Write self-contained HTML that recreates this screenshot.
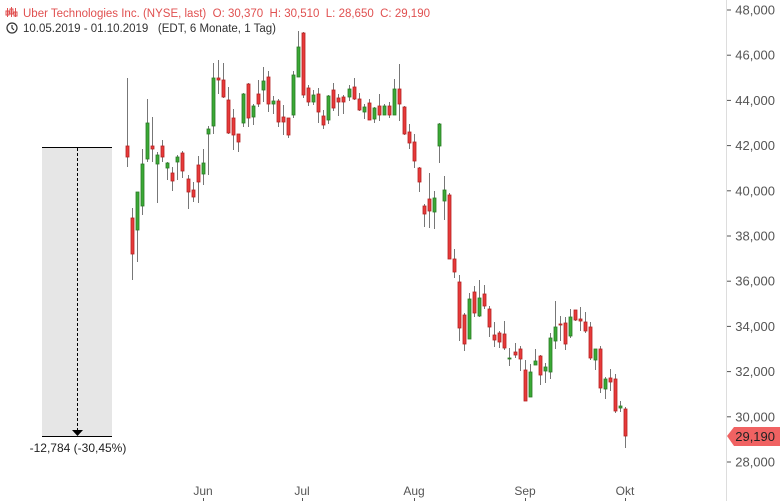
<!DOCTYPE html>
<html><head><meta charset="utf-8">
<style>
html,body{margin:0;padding:0;background:#fff;}
svg{display:block;font-family:"Liberation Sans",sans-serif;}
</style></head>
<body>
<svg id="c" width="780" height="501" viewBox="0 0 780 501" xmlns="http://www.w3.org/2000/svg">
<rect x="0" y="0" width="780" height="501" fill="#fff"/>
<rect x="42" y="147" width="70" height="289" fill="#e6e6e6"/>
<line x1="42" y1="147.5" x2="112" y2="147.5" stroke="#000" stroke-width="1"/>
<line x1="42" y1="436.5" x2="112" y2="436.5" stroke="#000" stroke-width="1"/>
<line x1="77.5" y1="148" x2="77.5" y2="430" stroke="#000" stroke-width="1" stroke-dasharray="3,2"/>
<polygon points="72,430 83,430 77.5,436" fill="#000"/>
<text x="78" y="452" font-size="12" fill="#222" text-anchor="middle">-12,784 (-30,45%)</text>
<line x1="726.5" y1="0" x2="726.5" y2="501" stroke="#ddd" stroke-width="1"/>
<g id="yax" font-size="13" fill="#555"></g>
<polygon points="727,436 734,427 780,427 780,446 734,446" fill="#f06262"/>
<text x="775" y="441" font-size="13" fill="#222" text-anchor="end">29,190</text>
<g font-size="12" fill="#555" text-anchor="middle">
<text x="203" y="495">Jun</text><text x="302" y="495">Jul</text><text x="414" y="495">Aug</text><text x="525" y="495">Sep</text><text x="625" y="495">Okt</text>
</g>
<g stroke="#555"><line x1="203.5" y1="498" x2="203.5" y2="501"/><line x1="302.5" y1="498" x2="302.5" y2="501"/><line x1="414.5" y1="498" x2="414.5" y2="501"/><line x1="525.5" y1="498" x2="525.5" y2="501"/><line x1="625.5" y1="498" x2="625.5" y2="501"/></g>
<g id="cs"></g>
<g stroke="#e05050" stroke-width="1" fill="none">
<line x1="7.5" y1="8" x2="7.5" y2="17"/><rect x="6" y="11" width="3" height="4"/>
<line x1="11.5" y1="7" x2="11.5" y2="17"/><rect x="10" y="9" width="3" height="5"/>
<line x1="15.5" y1="8" x2="15.5" y2="17"/><rect x="14" y="12" width="3" height="4"/>
</g>
<text x="23" y="17" font-size="11.5" fill="#e05050" xml:space="preserve" style="white-space:pre">Uber Technologies Inc. (NYSE, last)  O: 30,370  H: 30,510  L: 28,650  C: 29,190</text>
<circle cx="12" cy="28" r="5" stroke="#333" stroke-width="1.2" fill="none"/>
<polyline points="12,25 12,28 14,30" stroke="#333" stroke-width="1.2" fill="none"/>
<text x="23" y="32" font-size="11.5" fill="#333" xml:space="preserve" style="white-space:pre">10.05.2019 - 01.10.2019   (EDT, 6 Monate, 1 Tag)</text>
</svg>
<script>
var NS="http://www.w3.org/2000/svg";
var ya=document.getElementById("yax");
for(var v=48000;v>=28000;v-=2000){
 var y=10+(48000-v)/2000*45.2;
 var l=document.createElementNS(NS,"line");l.setAttribute("x1",727);l.setAttribute("x2",731);l.setAttribute("y1",y);l.setAttribute("y2",y);l.setAttribute("stroke","#555");ya.appendChild(l);
 var t=document.createElementNS(NS,"text");t.setAttribute("x",775);t.setAttribute("y",y+4.5);t.setAttribute("text-anchor","end");t.textContent=v.toLocaleString("en-US");ya.appendChild(t);
}
var d=[
[127,146,157,78,167,'r'],[132,218,254,208,280,'r'],[137,192,230,192,262,'g'],[142,164,206,149,215,'g'],[147,123,159,99,162,'g'],
[152,146,149,117,162,'r'],[157,155,164,152,203,'g'],[162,146,157,140,162,'r'],[167,163,168,162,180,'g'],[172,173,181,167,191,'r'],
[177,157,162,155,180,'g'],[182,153,171,151,178,'r'],[188,179,192,175,209,'r'],[193,190,197,182,202,'r'],[198,165,182,156,203,'r'],
[203,163,174,149,185,'g'],[208,129,134,126,175,'g'],[213,78,126,63,134,'g'],[218,78,80,60,94,'r'],[223,80,97,63,98,'r'],
[228,100,133,87,134,'r'],[233,118,135,109,150,'r'],[238,134,142,134,152,'r'],[243,94,123,93,127,'g'],[248,84,118,83,127,'r'],
[253,106,117,104,125,'g'],[258,94,104,80,107,'r'],[263,81,90,67,102,'g'],[268,77,104,71,112,'r'],[273,101,104,96,114,'g'],
[278,101,122,99,127,'r'],[283,117,122,105,135,'r'],[288,118,135,118,138,'r'],[293,75,115,71,118,'g'],[298,47,77,31,77,'g'],
[303,33,95,32,98,'r'],[308,88,102,85,106,'r'],[313,95,102,90,105,'g'],[318,94,112,88,123,'r'],[323,116,125,110,129,'r'],
[328,96,120,95,124,'g'],[333,90,108,83,111,'r'],[338,98,102,94,116,'r'],[343,97,102,95,114,'r'],[349,89,97,85,101,'g'],
[354,87,99,78,100,'r'],[359,99,110,93,111,'r'],[364,107,112,104,119,'g'],[369,103,120,99,120,'r'],[374,108,119,107,123,'g'],
[379,106,115,94,121,'r'],[384,106,115,104,115,'g'],[389,106,115,102,118,'r'],[394,89,115,79,115,'g'],[399,89,104,64,121,'r'],
[404,107,134,106,135,'r'],[409,132,143,124,149,'r'],[414,142,161,134,168,'r'],[419,168,182,167,192,'r'],[424,206,214,204,227,'r'],
[429,199,211,173,228,'r'],[434,198,212,191,229,'g'],[439,124,146,123,163,'g'],[444,190,201,176,220,'g'],[449,195,259,193,259,'r'],
[454,259,272,249,278,'r'],[459,282,328,275,341,'r'],[464,315,344,313,351,'r'],[469,299,339,293,339,'g'],[474,292,313,286,317,'r'],
[479,298,316,280,317,'g'],[484,294,306,285,309,'r'],[489,309,327,306,337,'r'],[494,335,340,322,347,'r'],[499,333,342,331,348,'r'],
[504,334,348,321,350,'r'],[509,358,359,348,366,'g'],[515,352,355,343,358,'r'],[520,349,359,346,371,'r'],[525,370,401,360,401,'r'],
[530,372,397,364,397,'g'],[535,361,365,349,365,'g'],[540,356,375,355,385,'r'],[545,367,371,363,383,'g'],[550,338,372,333,379,'g'],
[555,327,341,301,349,'g'],[560,324,325,316,341,'r'],[565,323,344,317,350,'r'],[570,317,336,309,338,'g'],[575,310,320,310,321,'r'],
[580,319,321,307,331,'r'],[585,322,331,312,333,'r'],[590,327,358,322,360,'r'],[595,349,360,349,370,'g'],[600,349,388,346,393,'r'],
[605,379,389,377,399,'g'],[610,378,382,369,391,'r'],[615,379,411,374,413,'r'],[620,406,408,401,412,'g'],[625,409,436,407,448,'r']
];
var g=document.getElementById("cs");
d.forEach(function(c){
 var x=c[0]+0.5;
 var w=document.createElementNS(NS,"line");w.setAttribute("x1",x);w.setAttribute("x2",x);w.setAttribute("y1",c[3]);w.setAttribute("y2",c[4]);w.setAttribute("stroke","#777");w.setAttribute("stroke-width",1);g.appendChild(w);
 var r=document.createElementNS(NS,"rect");r.setAttribute("x",c[0]-1);r.setAttribute("y",c[1]);r.setAttribute("width",3);r.setAttribute("height",Math.max(1,c[2]-c[1]));
 r.setAttribute("fill",c[5]=='g'?'#3aaa35':'#e83a3a');r.setAttribute("stroke",c[5]=='g'?'#2a7a25':'#b52222');r.setAttribute("stroke-width",0.8);g.appendChild(r);
});
</script>
</body></html>
